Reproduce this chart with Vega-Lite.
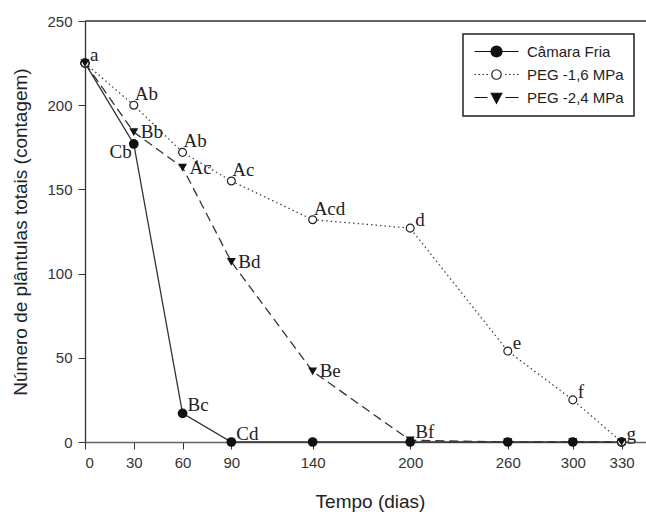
{
  "$schema": "https://vega.github.io/schema/vega-lite/v6.json",
  "width": 561,
  "height": 421,
  "autosize": {"type": "none"},
  "padding": {"left": 85, "top": 21, "right": 0, "bottom": 72},
  "background": "white",
  "view": {"stroke": null},
  "config": {
    "axis": {
      "labelFont": "Liberation Sans",
      "labelFontSize": 15,
      "labelColor": "#333",
      "titleFont": "Liberation Sans",
      "titleFontSize": 19,
      "titleFontWeight": "normal",
      "titleColor": "#222",
      "grid": false,
      "tickSize": 7,
      "tickColor": "#333",
      "labelPadding": 5
    },
    "legend": {
      "orient": "none",
      "legendX": 378,
      "legendY": 13,
      "padding": 10,
      "strokeColor": "#222",
      "strokeWidth": 1.5,
      "fillColor": "white",
      "labelFont": "Liberation Sans",
      "labelFontSize": 15,
      "labelColor": "#222",
      "rowPadding": 7,
      "symbolSize": 100,
      "symbolOffset": 16,
      "labelOffset": 23,
      "symbolStrokeWidth": 1.2,
      "symbolOpacity": 1
    }
  },
  "data": {
    "values": [
      {"serie": "Câmara Fria", "dia": 0, "n": 225, "letra": "a"},
      {"serie": "Câmara Fria", "dia": 30, "n": 177, "letra": "Cb"},
      {"serie": "Câmara Fria", "dia": 60, "n": 17, "letra": "Bc"},
      {"serie": "Câmara Fria", "dia": 90, "n": 0, "letra": "Cd"},
      {"serie": "Câmara Fria", "dia": 140, "n": 0, "letra": ""},
      {"serie": "Câmara Fria", "dia": 200, "n": 0, "letra": ""},
      {"serie": "Câmara Fria", "dia": 260, "n": 0, "letra": ""},
      {"serie": "Câmara Fria", "dia": 300, "n": 0, "letra": ""},
      {"serie": "Câmara Fria", "dia": 330, "n": 0, "letra": ""},
      {"serie": "PEG -1,6 MPa", "dia": 0, "n": 225, "letra": ""},
      {"serie": "PEG -1,6 MPa", "dia": 30, "n": 200, "letra": "Ab"},
      {"serie": "PEG -1,6 MPa", "dia": 60, "n": 172, "letra": "Ab"},
      {"serie": "PEG -1,6 MPa", "dia": 90, "n": 155, "letra": "Ac"},
      {"serie": "PEG -1,6 MPa", "dia": 140, "n": 132, "letra": "Acd"},
      {"serie": "PEG -1,6 MPa", "dia": 200, "n": 127, "letra": "d"},
      {"serie": "PEG -1,6 MPa", "dia": 260, "n": 54, "letra": "e"},
      {"serie": "PEG -1,6 MPa", "dia": 300, "n": 25, "letra": "f"},
      {"serie": "PEG -1,6 MPa", "dia": 330, "n": 0, "letra": "g"},
      {"serie": "PEG -2,4 MPa", "dia": 0, "n": 225, "letra": ""},
      {"serie": "PEG -2,4 MPa", "dia": 30, "n": 184, "letra": "Bb"},
      {"serie": "PEG -2,4 MPa", "dia": 60, "n": 163, "letra": "Ac"},
      {"serie": "PEG -2,4 MPa", "dia": 90, "n": 107, "letra": "Bd"},
      {"serie": "PEG -2,4 MPa", "dia": 140, "n": 42, "letra": "Be"},
      {"serie": "PEG -2,4 MPa", "dia": 200, "n": 1, "letra": "Bf"},
      {"serie": "PEG -2,4 MPa", "dia": 260, "n": 0, "letra": ""},
      {"serie": "PEG -2,4 MPa", "dia": 300, "n": 0, "letra": ""},
      {"serie": "PEG -2,4 MPa", "dia": 330, "n": 0, "letra": ""}
    ]
  },
  "encoding": {
    "x": {
      "field": "dia", "type": "quantitative",
      "scale": {"domain": [0, 345], "nice": false, "zero": false},
      "axis": {
        "title": "Tempo (dias)",
        "values": [0, 30, 60, 90, 140, 200, 260, 300, 330],
        "domainColor": "#666",
        "domainWidth": 1.6,
        "labelPadding": 6,
        "titlePadding": 22,
        "titleX": 285
      }
    },
    "y": {
      "field": "n", "type": "quantitative",
      "scale": {"domain": [0, 250], "nice": false},
      "axis": {
        "title": "Número de plântulas totais (contagem)",
        "values": [0, 50, 100, 150, 200, 250],
        "domainColor": "#333",
        "domainWidth": 1.3,
        "labelPadding": 6,
        "titlePadding": 16
      }
    }
  },
  "layer": [
    {
      "mark": {"type": "rule", "color": "#666", "strokeWidth": 1.5},
      "encoding": {"x": null, "y": {"datum": 250}}
    },
    {
      "transform": [{"filter": "datum.serie === 'Câmara Fria'"}],
      "mark": {"type": "line", "color": "#333", "strokeWidth": 1.3}
    },
    {
      "transform": [{"filter": "datum.serie === 'PEG -1,6 MPa'"}],
      "mark": {"type": "line", "color": "#444", "strokeWidth": 1.3, "strokeDash": [1.5, 3]}
    },
    {
      "transform": [{"filter": "datum.serie === 'PEG -2,4 MPa'"}],
      "mark": {"type": "line", "color": "#333", "strokeWidth": 1.3, "strokeDash": [9, 5]}
    },
    {
      "transform": [{"filter": "datum.serie === 'Câmara Fria'"}],
      "mark": {"type": "point", "shape": "circle", "filled": true, "opacity": 1, "size": 95, "color": "#111"}
    },
    {
      "transform": [{"filter": "datum.serie === 'PEG -1,6 MPa'"}],
      "mark": {"type": "point", "shape": "circle", "filled": false, "fill": "white", "opacity": 1, "size": 62, "stroke": "#222", "strokeWidth": 1.2}
    },
    {
      "transform": [{"filter": "datum.serie === 'PEG -2,4 MPa'"}],
      "mark": {"type": "point", "shape": "triangle-down", "filled": true, "opacity": 1, "size": 80, "color": "#111"}
    },
    {
      "transform": [{"filter": "false"}],
      "mark": {"type": "point", "filled": false, "opacity": 1, "strokeWidth": 1.2},
      "encoding": {
        "shape": {
          "field": "serie", "type": "nominal",
          "scale": {
            "domain": ["Câmara Fria", "PEG -1,6 MPa", "PEG -2,4 MPa"],
            "range": [
              "M-4.4,0L4.4,0M1.1,0C1.1,0.61 0.61,1.1 0,1.1C-0.61,1.1 -1.1,0.61 -1.1,0C-1.1,-0.61 -0.61,-1.1 0,-1.1C0.61,-1.1 1.1,-0.61 1.1,0Z",
              "M-4.4,0L-4.1,0M-3.6,0L-3.3,0M-2.8,0L-2.5,0M-2,0L-1.7,0M1.7,0L2,0M2.5,0L2.8,0M3.3,0L3.6,0M4.1,0L4.4,0M0.95,0C0.95,0.524 0.524,0.95 0,0.95C-0.524,0.95 -0.95,0.524 -0.95,0C-0.95,-0.524 -0.524,-0.95 0,-0.95C0.524,-0.95 0.95,-0.524 0.95,0Z",
              "M-4.4,0L-1.8,0M1.8,0L4.4,0M-1.05,-0.85L1.05,-0.85L0,1.15Z"
            ]
          },
          "legend": {"title": null}
        },
        "fill": {
          "field": "serie", "type": "nominal",
          "scale": {"domain": ["Câmara Fria", "PEG -1,6 MPa", "PEG -2,4 MPa"], "range": ["#111111", "#ffffff", "#111111"]}
        },
        "stroke": {
          "field": "serie", "type": "nominal",
          "scale": {"domain": ["Câmara Fria", "PEG -1,6 MPa", "PEG -2,4 MPa"], "range": ["#111111", "#222222", "#111111"]}
        }
      }
    },
    {
      "transform": [{"filter": "datum.serie === 'PEG -1,6 MPa' && datum.dia >= 30 && datum.dia <= 140"}],
      "mark": {"type": "text", "font": "Liberation Serif", "fontSize": 19, "color": "#222", "align": "left", "baseline": "alphabetic", "dx": 1, "dy": -5},
      "encoding": {"text": {"field": "letra"}}
    },
    {
      "transform": [{"filter": "datum.serie === 'PEG -2,4 MPa' && datum.dia >= 30 && datum.dia <= 140"}],
      "mark": {"type": "text", "font": "Liberation Serif", "fontSize": 19, "color": "#222", "align": "left", "baseline": "alphabetic", "dx": 7, "dy": 6},
      "encoding": {"text": {"field": "letra"}}
    },
    {
      "transform": [{"filter": "datum.serie === 'Câmara Fria' && datum.dia === 30"}],
      "mark": {"type": "text", "font": "Liberation Serif", "fontSize": 19, "color": "#222", "align": "right", "baseline": "alphabetic", "dx": -2, "dy": 14},
      "encoding": {"text": {"field": "letra"}}
    },
    {
      "transform": [{"filter": "!((datum.serie !== 'Câmara Fria' && datum.dia >= 30 && datum.dia <= 140) || (datum.serie === 'Câmara Fria' && datum.dia === 30))"}],
      "mark": {"type": "text", "font": "Liberation Serif", "fontSize": 19, "color": "#222", "align": "left", "baseline": "alphabetic", "dx": 5, "dy": -2},
      "encoding": {"text": {"field": "letra"}}
    }
  ]
}
